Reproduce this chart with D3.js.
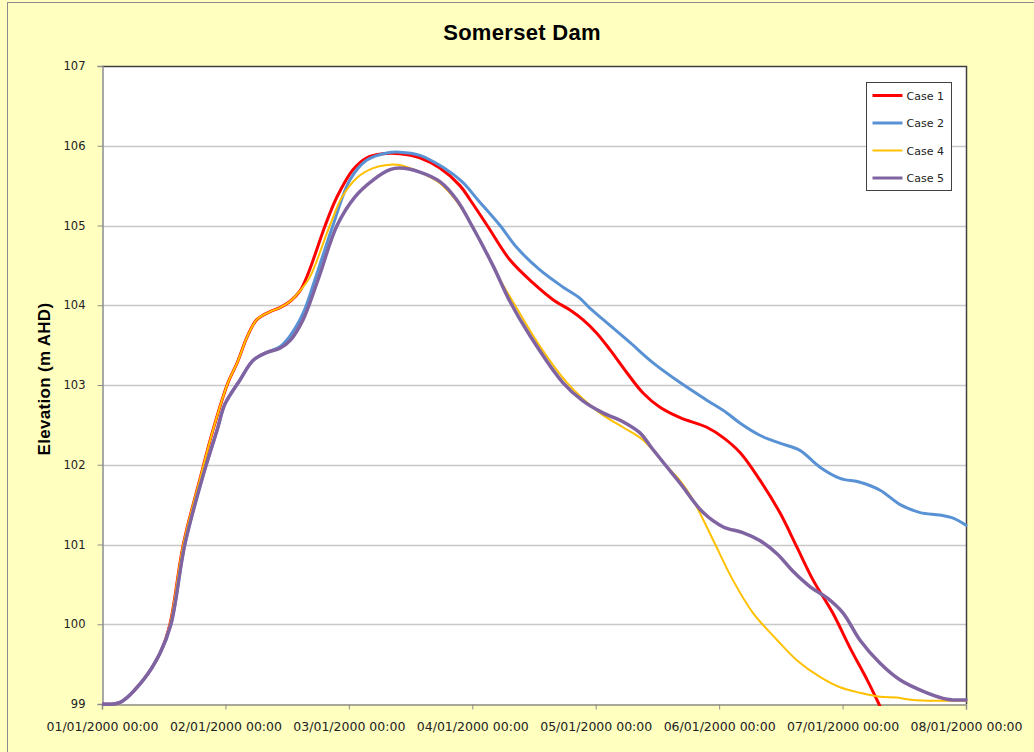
<!doctype html>
<html>
<head>
<meta charset="utf-8" />
<title>Somerset Dam</title>
<script src="https://cdn.jsdelivr.net/npm/d3@7"></script>
<style>
  body { margin: 0; padding: 0; background: #ffffc0; }
  svg { display: block; }
</style>
</head>
<body>
<script>
// series data: [hours since 01/01/2000 00:00, elevation m AHD]
var case1 = [[0,99.0],[3.5,99.02],[8.0,99.3],[11.3,99.64],[13.2,100.0],[15.8,101.0],[19.0,101.81],[21.6,102.44],
  [24.5,103.03],[26.3,103.28],[28.2,103.6],[30.1,103.82],[32.7,103.92],[34.6,103.97],[36.6,104.05],[38.5,104.18],
  [40.1,104.4],[43.4,105.0],[45.7,105.36],[48.8,105.7],[51.5,105.85],[54.6,105.9],[57.9,105.9],[61.8,105.85],
  [65.7,105.72],[69.6,105.5],[71.6,105.32],[74.9,105.0],[79.3,104.57],[83.8,104.28],[87.7,104.07],[91.0,103.94],
  [93.5,103.82],[96.2,103.65],[98.8,103.44],[102.1,103.15],[105.2,102.9],[108.5,102.72],[112.4,102.59],
  [117.6,102.47],[120.8,102.34],[124.1,102.15],[127.9,101.81],[131.8,101.4],[135.1,100.97],[138.3,100.55],
  [142.1,100.14],[145.4,99.71],[148.8,99.3],[150.7,99.05],[152.5,98.8]];

var case2 = [[0,99.0],[3.5,99.02],[8.0,99.3],[11.3,99.64],[13.4,100.0],[16.1,101.0],[19.4,101.81],[22.4,102.44],
  [23.9,102.76],[26.8,103.06],[29.4,103.31],[32.1,103.41],[34.6,103.48],[36.6,103.62],[39.1,103.9],[41.4,104.32],
  [44.9,105.0],[48.2,105.57],[51.5,105.82],[55.4,105.91],[57.9,105.92],[61.8,105.88],[66.3,105.73],[70.0,105.55],
  [73.1,105.32],[77.4,105.0],[80.7,104.72],[85.2,104.44],[89.6,104.23],[92.9,104.09],[94.9,103.96],[98.2,103.78],
  [102.7,103.53],[107.1,103.28],[112.4,103.03],[117.6,102.81],[121.5,102.65],[124.1,102.52],[127.9,102.37],
  [131.8,102.27],[135.7,102.18],[139.6,101.97],[143.5,101.83],[147.4,101.78],[151.3,101.68],[155.2,101.5],
  [159.1,101.4],[162.9,101.37],[165.5,101.33],[168,101.24]];

var case4 = [[0,99.0],[3.5,99.02],[8.0,99.3],[11.3,99.64],[13.2,100.0],[15.8,101.0],[19.0,101.81],[21.6,102.44],
  [24.5,103.03],[26.3,103.28],[28.2,103.6],[30.1,103.82],[32.7,103.92],[34.6,103.97],[36.6,104.05],[38.5,104.18],
  [40.4,104.35],[44.3,105.0],[46.7,105.36],[49.6,105.6],[52.7,105.72],[55.4,105.76],[57.9,105.76],[61.8,105.67],
  [65.7,105.53],[69.0,105.3],[72.3,104.96],[77.4,104.32],[80.3,104.0],[85.0,103.5],[90.4,103.03],[96.8,102.65],
  [101.3,102.47],[105.2,102.31],[109.5,102.0],[112.4,101.8],[114.9,101.56],[118.8,101.06],[122.7,100.55],
  [126.6,100.14],[131.3,99.8],[135.1,99.55],[139.6,99.34],[143.5,99.21],[147.4,99.14],[151.3,99.09],
  [154.6,99.08],[157.7,99.05],[168,99.04]];

var case5 = [[0,99.0],[3.5,99.02],[8.0,99.3],[11.3,99.64],[13.4,100.0],[16.1,101.0],[19.4,101.81],[22.4,102.44],
  [23.9,102.76],[26.8,103.06],[29.4,103.31],[32.1,103.41],[34.6,103.46],[36.6,103.56],[39.1,103.82],[42.0,104.32],
  [45.7,105.0],[49.2,105.36],[52.7,105.57],[56.0,105.7],[57.9,105.72],[61.8,105.67],[65.7,105.55],[69.0,105.32],
  [71.9,105.0],[76.0,104.5],[79.3,104.05],[83.2,103.62],[89.6,103.03],[93.5,102.8],[97.4,102.65],[101.3,102.54],
  [104.6,102.4],[106.9,102.21],[109.5,102.0],[112.4,101.77],[116.9,101.4],[120.8,101.22],[124.6,101.15],
  [127.9,101.05],[131.3,100.88],[134.4,100.66],[137.7,100.47],[141.0,100.33],[144.1,100.14],[147.4,99.8],
  [151.3,99.51],[155.2,99.3],[160.4,99.14],[164.3,99.06],[168,99.05]];

var seriesNames = ["Case 1", "Case 2", "Case 4", "Case 5"];
var seriesColors = ["#ff0000", "#5892d4", "#ffc000", "#8064a2"];
var seriesWidths = [3, 3, 2, 3.5];
var yTicks = [99, 100, 101, 102, 103, 104, 105, 106, 107];
var xTickLabels = ["01/01/2000 00:00", "02/01/2000 00:00", "03/01/2000 00:00", "04/01/2000 00:00",
  "05/01/2000 00:00", "06/01/2000 00:00", "07/01/2000 00:00", "08/01/2000 00:00"];

var W = 1034, H = 752;
var plot = {left: 102, top: 66, right: 966, bottom: 704};

var svg = d3.select("body").append("svg").attr("width", W).attr("height", H);

// fondo e bordo esterno
svg.append("rect").attr("x", 0).attr("y", 0).attr("width", W).attr("height", H).attr("fill", "#ffffc0");
svg.append("rect").attr("x", 7.5).attr("y", 2.5).attr("width", W + 20).attr("height", H + 20)
  .attr("fill", "none").attr("stroke", "#8c8c8c");

var x = d3.scaleLinear().domain([0, 168]).range([plot.left, plot.right]);
var y = d3.scaleLinear().domain([99, 107]).range([plot.bottom, plot.top]);

// plot area
svg.append("rect").attr("x", plot.left).attr("y", plot.top)
  .attr("width", plot.right - plot.left).attr("height", plot.bottom - plot.top).attr("fill", "#ffffff");

// griglia
svg.append("g").selectAll("line").data(yTicks.slice(1, -1)).enter().append("line")
  .attr("x1", plot.left).attr("x2", plot.right)
  .attr("y1", function(d) { return Math.round(y(d)) + 0.5; })
  .attr("y2", function(d) { return Math.round(y(d)) + 0.5; })
  .attr("stroke", "#c8c8c8").attr("stroke-width", 1.5);

// bordo plot area (sopra e destra)
svg.append("path")
  .attr("d", "M" + plot.left + "," + (plot.top + 0.5) + "H" + (plot.right + 0.5) + "V" + plot.bottom)
  .attr("fill", "none").attr("stroke", "#404040").attr("stroke-width", 1.5);

// assi
var yAxis = d3.axisLeft(y).tickValues(yTicks).tickSize(5).tickPadding(12).tickFormat(d3.format("d"));
var gy = svg.append("g").attr("transform", "translate(" + (plot.left + 0.5) + ",0)").call(yAxis);
gy.select(".domain").attr("stroke", "#8c8c8c").attr("stroke-width", 1.5);
gy.selectAll(".tick line").attr("stroke", "#8c8c8c");
gy.selectAll(".tick text").attr("font-family", "DejaVu Sans").attr("font-size", "11.5px").attr("fill", "#222");

var xAxis = d3.axisBottom(x).tickValues(d3.range(0, 169, 24)).tickSize(5).tickPadding(13)
  .tickFormat(function(d, i) { return xTickLabels[i]; });
var gx = svg.append("g").attr("transform", "translate(0," + (plot.bottom + 0.5) + ")").call(xAxis);
gx.select(".domain").attr("stroke", "#8c8c8c").attr("stroke-width", 1.5);
gx.selectAll(".tick line").attr("stroke", "#8c8c8c");
gx.selectAll(".tick text").attr("font-family", "DejaVu Sans").attr("font-size", "12.5px").attr("fill", "#222");

// linee
svg.append("clipPath").attr("id", "clip").append("rect")
  .attr("x", plot.left).attr("y", plot.top - 5)
  .attr("width", plot.right - plot.left + 2).attr("height", plot.bottom - plot.top + 7);

var line = d3.line()
  .x(function(d) { return x(d[0]); })
  .y(function(d) { return y(d[1]); })
  .curve(d3.curveCatmullRom.alpha(0.5));

var allSeries = [case1, case2, case4, case5];
var gl = svg.append("g").attr("clip-path", "url(#clip)");
allSeries.forEach(function(s, i) {
  gl.append("path").datum(s).attr("d", line)
    .attr("fill", "none").attr("stroke", seriesColors[i]).attr("stroke-width", seriesWidths[i])
    .attr("stroke-linejoin", "round").attr("stroke-linecap", "round");
});

// titolo
svg.append("text").attr("x", 522).attr("y", 40).attr("text-anchor", "middle")
  .attr("font-family", "Liberation Sans").attr("font-weight", "bold").attr("font-size", "22px")
  .attr("letter-spacing", "0.3px").attr("fill", "#000").text("Somerset Dam");

// titolo asse Y
svg.append("text").attr("transform", "translate(50,379) rotate(-90)").attr("text-anchor", "middle")
  .attr("font-family", "Liberation Sans").attr("font-weight", "bold").attr("font-size", "17px")
  .attr("letter-spacing", "0.3px").attr("fill", "#000").text("Elevation (m AHD)");

// legenda
var lg = svg.append("g").attr("transform", "translate(866.5,82.5)");
lg.append("rect").attr("width", 85).attr("height", 108).attr("fill", "#fff").attr("stroke", "#404040");
seriesNames.forEach(function(name, i) {
  var ry = 13 + i * 27.5;
  lg.append("line").attr("x1", 6).attr("x2", 36).attr("y1", ry).attr("y2", ry)
    .attr("stroke", seriesColors[i]).attr("stroke-width", seriesWidths[i] === 2 ? 2 : 3);
  lg.append("text").attr("x", 40).attr("y", ry + 4).attr("font-family", "DejaVu Sans")
    .attr("font-size", "11px").attr("fill", "#222").text(name);
});
</script>
</body>
</html>
